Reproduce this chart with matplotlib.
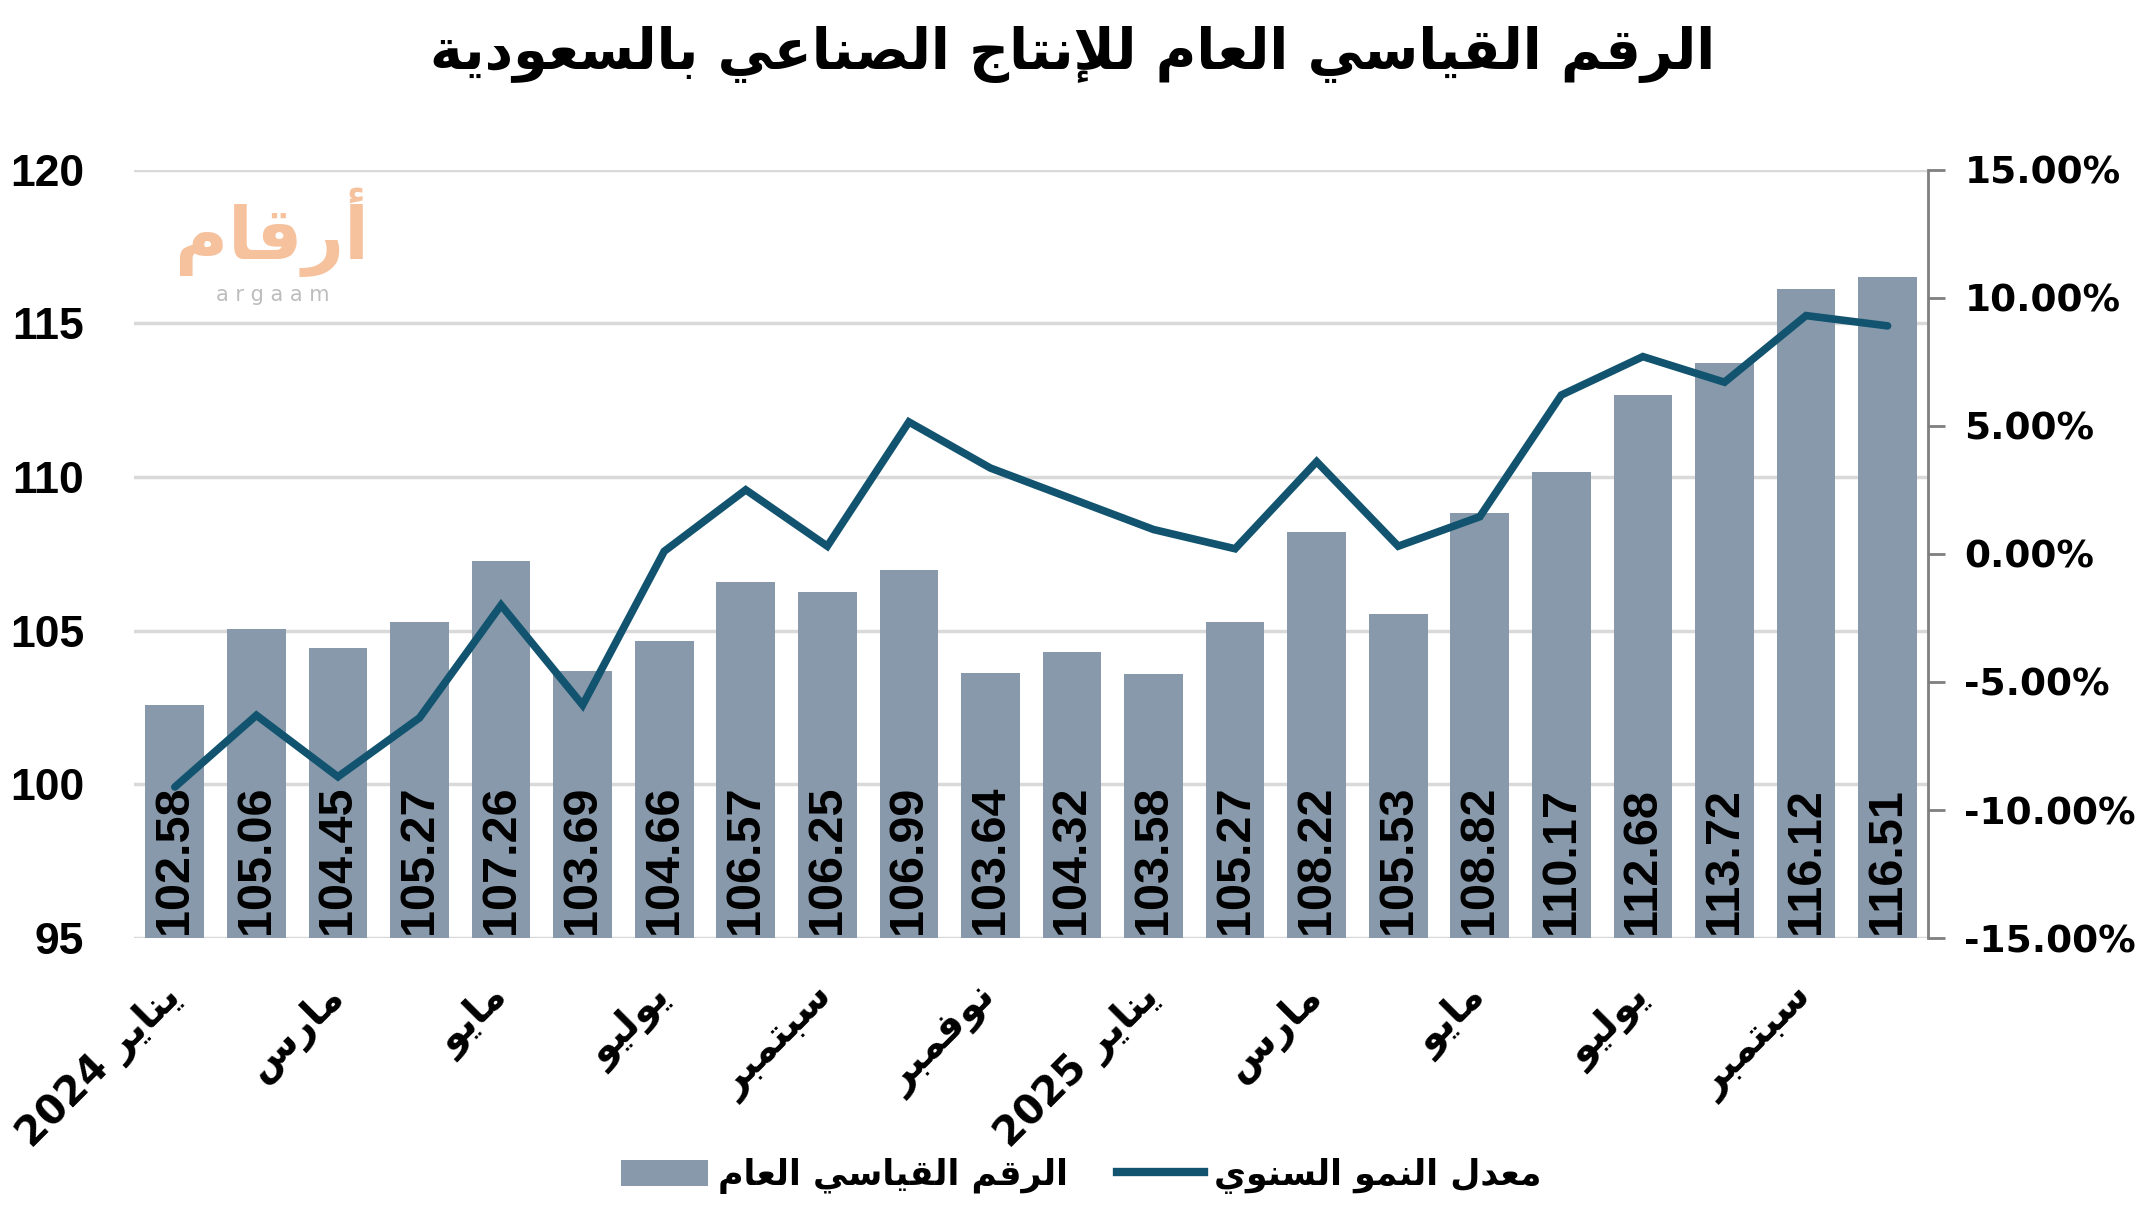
import numpy as np
import matplotlib.pyplot as plt
from matplotlib.patches import Patch
from matplotlib.lines import Line2D
from matplotlib import font_manager

# arabic presentation forms: isolated, final, initial, medial
FORMS = {
    'ا': ('\ufe8d', '\ufe8e', None, None),
    'أ': ('\ufe83', '\ufe84', None, None),
    'إ': ('\ufe87', '\ufe88', None, None),
    'آ': ('\ufe81', '\ufe82', None, None),
    'ب': ('\ufe8f', '\ufe90', '\ufe91', '\ufe92'),
    'ة': ('\ufe93', '\ufe94', None, None),
    'ت': ('\ufe95', '\ufe96', '\ufe97', '\ufe98'),
    'ج': ('\ufe9d', '\ufe9e', '\ufe9f', '\ufea0'),
    'د': ('\ufea9', '\ufeaa', None, None),
    'ر': ('\ufead', '\ufeae', None, None),
    'س': ('\ufeb1', '\ufeb2', '\ufeb3', '\ufeb4'),
    'ص': ('\ufeb9', '\ufeba', '\ufebb', '\ufebc'),
    'ع': ('\ufec9', '\ufeca', '\ufecb', '\ufecc'),
    'ف': ('\ufed1', '\ufed2', '\ufed3', '\ufed4'),
    'ق': ('\ufed5', '\ufed6', '\ufed7', '\ufed8'),
    'ل': ('\ufedd', '\ufede', '\ufedf', '\ufee0'),
    'م': ('\ufee1', '\ufee2', '\ufee3', '\ufee4'),
    'ن': ('\ufee5', '\ufee6', '\ufee7', '\ufee8'),
    'و': ('\ufeed', '\ufeee', None, None),
    'ي': ('\ufef1', '\ufef2', '\ufef3', '\ufef4'),
}
LAM_ALEF = {'ا': ('\ufefb', '\ufefc'), 'أ': ('\ufef7', '\ufef8'),
            'إ': ('\ufef9', '\ufefa'), 'آ': ('\ufef5', '\ufef6')}


def joins_next(c):
    f = FORMS.get(c)
    return f is not None and f[2] is not None


def shape(word):
    out = []
    i = 0
    while i < len(word):
        c = word[i]
        f = FORMS.get(c)
        if f is None:
            out.append(c)
            i += 1
            continue
        prev_conn = i > 0 and joins_next(word[i - 1])
        if c == 'ل' and i + 1 < len(word) and word[i + 1] in LAM_ALEF:
            iso, fin = LAM_ALEF[word[i + 1]]
            out.append(fin if prev_conn else iso)
            i += 2
            continue
        next_conn = joins_next(c) and i + 1 < len(word) and word[i + 1] in FORMS
        if prev_conn and next_conn:
            out.append(f[3])
        elif prev_conn:
            out.append(f[1])
        elif next_conn:
            out.append(f[2])
        else:
            out.append(f[0])
        i += 1
    return ''.join(out)


def ar(text):
    # shape and put in visual (left to right) order
    vis = []
    for w in text.split(' '):
        if any(ch in FORMS for ch in w):
            vis.append(shape(w)[::-1])
        else:
            vis.append(w)
    return ' '.join(vis[::-1])


# data
months = ["يناير 2024", "", "مارس", "", "مايو", "", "يوليو", "", "سبتمبر", "", "نوفمبر", "",
          "يناير 2025", "", "مارس", "", "مايو", "", "يوليو", "", "سبتمبر", ""]
index_values = [102.58, 105.06, 104.45, 105.27, 107.26, 103.69, 104.66, 106.57, 106.25, 106.99, 103.64,
                104.32, 103.58, 105.27, 108.22, 105.53, 108.82, 110.17, 112.68, 113.72, 116.12, 116.51]
growth_pct = [-9.1, -6.3, -8.7, -6.4, -2.0, -5.9, 0.1, 2.5, 0.3, 5.15, 3.35,
              2.15, 0.95, 0.2, 3.6, 0.3, 1.45, 6.2, 7.7, 6.7, 9.3, 8.9]

title = "الرقم القياسي العام للإنتاج الصناعي بالسعودية"
bar_name = "الرقم القياسي العام"
line_name = "معدل النمو السنوي"

BAR_COLOR = '#8799AB'
LINE_COLOR = '#12546F'
GRID_COLOR = '#D9D9D9'

plt.rcParams['font.family'] = ['Liberation Sans', 'DejaVu Sans']

names = {f.name for f in font_manager.fontManager.ttflist}
if 'Liberation Sans Narrow' in names:
    label_family, label_size = ['Liberation Sans Narrow'], 42
else:
    label_family, label_size = ['Liberation Sans'], 35

fig = plt.figure(figsize=(21.45, 12.2), dpi=100)
ax = fig.add_axes([0.0625, 0.231, 0.8365, 0.63])

x = np.arange(len(index_values))
ax.bar(x, [v - 95 for v in index_values], bottom=95, width=0.72, color=BAR_COLOR, zorder=2)
for xi, v in zip(x, index_values):
    ax.text(xi, 95.12, f"{v:.2f}", rotation=90, rotation_mode='anchor', ha='left', va='center',
            fontsize=label_size, fontweight='bold', color='black', family=label_family, zorder=3)

ax.set_xlim(-0.5, len(x) - 0.5)
ax.set_ylim(95, 120)
ax.set_yticks(np.arange(95, 121, 5))
ax.yaxis.grid(True, color=GRID_COLOR, lw=2.5, zorder=0)
ax.set_axisbelow(True)
for s in ax.spines.values():
    s.set_visible(False)
ax.tick_params(axis='y', length=0, pad=36, labelsize=32)
for lbl in ax.get_yticklabels():
    lbl.set_fontweight('bold')

ax.set_xticks(x)
ax.set_xticklabels([ar(m) for m in months], rotation=45, rotation_mode='anchor', ha='right', va='center',
                   fontsize=29, fontweight='bold', family=['DejaVu Sans'])
ax.tick_params(axis='x', length=0, pad=38)

ax2 = ax.twinx()
ax2.plot(x, growth_pct, color=LINE_COLOR, lw=5.5, solid_joinstyle='miter', solid_capstyle='round', zorder=4)
ax2.set_ylim(-15, 15)
ax2.set_yticks(np.arange(-15, 16, 5))
ax2.set_yticklabels([f"{t:.2f}%" for t in np.arange(-15, 16, 5)], family=['DejaVu Sans'],
                    fontweight='bold')
for side in ['left', 'top', 'bottom']:
    ax2.spines[side].set_visible(False)
ax2.spines['right'].set_color('#7F7F7F')
ax2.spines['right'].set_linewidth(2)
ax2.tick_params(axis='y', length=12, width=2, color='#7F7F7F', pad=14, labelsize=27)

fig.text(0.5, 0.955, ar(title), ha='center', va='center', fontsize=40, fontweight='bold',
         family=['DejaVu Sans'])

# argaam logo
fig.text(0.127, 0.81, ar("أرقام"), ha='center', va='center', fontsize=52, fontweight='bold',
         color='#F6C29E', family=['DejaVu Sans'])
fig.text(0.127, 0.758, "a r g a a m", ha='center', va='center', fontsize=15, color='#BDBDBD',
         family=['DejaVu Sans'])

handles = [Patch(facecolor=BAR_COLOR), Line2D([0], [0], color=LINE_COLOR, lw=6)]
leg = fig.legend(handles, [ar(bar_name), ar(line_name)], loc='center', bbox_to_anchor=(0.504, 0.036),
                 ncol=2, frameon=False, handlelength=2.5, handleheight=0.8, columnspacing=1.4,
                 handletextpad=0.3, prop={'family': ['DejaVu Sans'], 'weight': 'bold', 'size': 25})

fig.savefig('out.png', dpi=100)
